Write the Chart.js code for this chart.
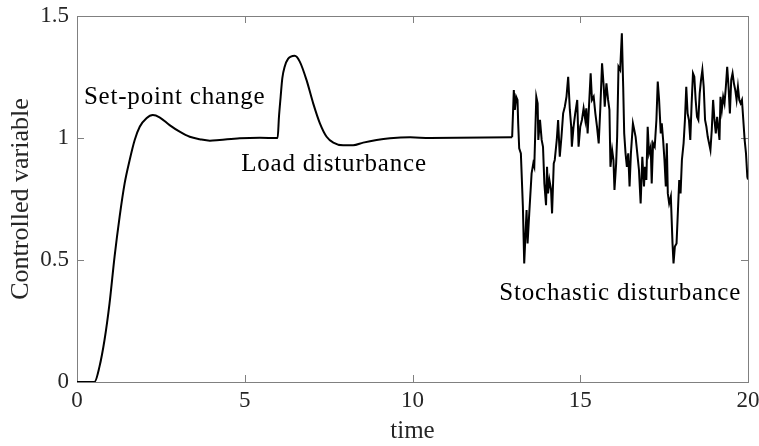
<!DOCTYPE html>
<html>
<head>
<meta charset="utf-8">
<script src="https://cdn.jsdelivr.net/npm/chart.js@4.4.0/dist/chart.umd.min.js"></script>
<style>
  html, body { margin: 0; padding: 0; background: #fff; }
  #wrap { width: 759px; height: 446px; }
</style>
</head>
<body>
<div id="wrap"><canvas id="responseChart"></canvas></div>
<script>
// time axis and controlled variable
var times = [
  0, 0.52, 0.67, 0.82, 0.97, 1.12, 1.27, 1.42, 1.57, 1.72, 1.87, 2.07, 2.26, 2.46, 2.76, 3.06, 3.36, 3.66, 3.96, 4.25, 4.85, 5.45, 5.98,
  6.02, 6.07, 6.12, 6.19, 6.29, 6.49, 6.64, 6.84, 7.04, 7.24, 7.44, 7.64, 7.93, 8.23, 8.53, 8.93, 9.33, 9.93, 10.52, 12.97,
  13.02, 13.05, 13.09, 13.13, 13.15, 13.18, 13.23, 13.29, 13.33, 13.40, 13.43, 13.48, 13.55, 13.60, 13.63, 13.69, 13.73, 13.75, 13.80, 13.85,
  13.89, 13.93, 13.98, 14.01, 14.04, 14.08, 14.13, 14.16, 14.21, 14.24, 14.30, 14.34, 14.39, 14.44, 14.49, 14.54, 14.59, 14.64, 14.69,
  14.73, 14.75, 14.80, 14.85, 14.91, 14.95, 15.00, 15.05, 15.10, 15.15, 15.18, 15.22, 15.27, 15.31, 15.35, 15.40, 15.45, 15.50, 15.55,
  15.60, 15.65, 15.70, 15.73, 15.78, 15.83, 15.87, 15.90, 15.95, 15.99, 16.02, 16.07, 16.10, 16.14, 16.19, 16.24, 16.28, 16.31, 16.35,
  16.39, 16.43, 16.47, 16.51, 16.57, 16.61, 16.65, 16.70, 16.75, 16.80, 16.85, 16.90, 16.93, 16.97, 17.01, 17.05, 17.10, 17.13, 17.17,
  17.22, 17.27, 17.31, 17.35, 17.40, 17.43, 17.47, 17.51, 17.55, 17.58, 17.61, 17.65, 17.70, 17.75, 17.78, 17.82, 17.87, 17.90, 17.95,
  17.99, 18.03, 18.08, 18.12, 18.16, 18.20, 18.24, 18.28, 18.32, 18.36, 18.40, 18.44, 18.48, 18.52, 18.56, 18.60, 18.64, 18.68, 18.72,
  18.76, 18.80, 18.84, 18.88, 18.92, 18.96, 19.00, 19.04, 19.08, 19.12, 19.15, 19.18, 19.22, 19.26, 19.30, 19.34, 19.38, 19.42, 19.46,
  19.50, 19.54, 19.58, 19.62, 19.66, 19.70, 19.74, 19.78, 19.82, 19.86, 19.90, 19.94, 19.98, 20.00
];
var controlled = [
  0, 0, 0.063, 0.172, 0.322, 0.514, 0.677, 0.814, 0.910, 0.992, 1.046, 1.081, 1.094, 1.085, 1.053, 1.026, 1.005, 0.995, 0.989, 0.992, 0.999, 1.001, 1.0,
  1.087, 1.169, 1.245, 1.292, 1.324, 1.337, 1.313, 1.238, 1.142, 1.060, 1.005, 0.981, 0.970, 0.970, 0.981, 0.992, 0.999, 1.003, 1.0, 1.003,
  1.197, 1.115, 1.169, 1.156, 1.060, 0.958, 0.937, 0.719, 0.486, 0.705, 0.568, 0.691, 0.855, 0.896, 0.882, 1.169, 1.142, 0.992, 1.074, 0.992,
  0.964, 0.814, 0.725, 0.882, 0.773, 0.828, 0.787, 0.691, 0.896, 0.910, 0.992, 1.074, 0.923, 1.005, 1.101, 1.128, 1.169, 1.251, 1.115,
  1.046, 0.964, 1.046, 1.101, 1.156, 0.964, 1.046, 1.074, 1.122, 1.074, 1.122, 1.019, 1.156, 1.265, 1.156, 1.169, 1.101, 1.046, 0.978,
  1.128, 1.306, 1.210, 1.128, 1.224, 1.156, 1.115, 0.882, 0.951, 0.910, 0.787, 0.896, 1.005, 1.292, 1.279, 1.429, 1.210, 1.019, 0.937,
  0.882, 0.937, 0.801, 0.937, 1.060, 1.033, 1.005, 0.937, 0.869, 0.732, 0.923, 0.801, 0.882, 0.828, 1.046, 0.937, 0.964, 0.814, 0.978,
  0.964, 1.074, 1.231, 1.156, 1.019, 1.060, 0.992, 0.910, 0.801, 0.978, 0.773, 0.732, 0.760, 0.568, 0.486, 0.555, 0.568, 0.664, 0.828,
  0.773, 0.910, 0.978, 1.074, 1.210, 1.101, 1.074, 0.992, 1.142, 1.265, 1.251, 1.156, 1.087, 1.074, 1.183, 1.238, 1.279, 1.210, 1.074,
  1.046, 1.005, 0.978, 0.951, 1.033, 1.156, 1.074, 1.019, 1.087, 1.033, 0.992, 1.169, 1.115, 1.169, 1.142, 1.210, 1.292, 1.210, 1.101,
  1.238, 1.265, 1.224, 1.197, 1.156, 1.210, 1.156, 1.142, 1.156, 1.074, 0.992, 0.937, 0.841, 0.83
];
var xTicks = [0, 5, 10, 15, 20];
var yTicks = [0, 0.5, 1, 1.5];
var noteTexts = ['Set-point change', 'Load disturbance', 'Stochastic disturbance'];

// where each note sits, data units (text centre, baseline)
var notePlaces = [[2.91, 1.139], [7.66, 0.865], [16.19, 0.336]];
var noiseStart = 12.97;

var serif = "'Liberation Serif', 'DejaVu Serif', serif";
var axisGray = '#808080';

var points = times.map(function (t, i) { return { x: t, y: controlled[i] }; });
var smoothPart = points.filter(function (p) { return p.x <= noiseStart; });
var noisyPart = points.filter(function (p) { return p.x >= noiseStart; });

// box with inward ticks on all four sides + the text notes
var boxTicks = {
  id: 'boxTicks',
  beforeDatasetsDraw: function (chart) {
    var c = chart.ctx, a = chart.chartArea;
    var sx = chart.scales.x, sy = chart.scales.y;
    var len = 7;
    c.save();
    c.strokeStyle = axisGray;
    c.lineWidth = 1;
    c.strokeRect(Math.round(a.left) + 0.5, Math.round(a.top) + 0.5,
      Math.round(a.right - a.left), Math.round(a.bottom - a.top));
    c.beginPath();
    xTicks.forEach(function (v) {
      var px = Math.round(sx.getPixelForValue(v)) + 0.5;
      c.moveTo(px, a.bottom); c.lineTo(px, a.bottom - len);
      c.moveTo(px, a.top); c.lineTo(px, a.top + len);
    });
    yTicks.forEach(function (v) {
      var py = Math.round(sy.getPixelForValue(v)) + 0.5;
      c.moveTo(a.left, py); c.lineTo(a.left + len, py);
      c.moveTo(a.right, py); c.lineTo(a.right - len, py);
    });
    c.stroke();
    c.restore();
  },
  afterDatasetsDraw: function (chart) {
    var c = chart.ctx;
    var sx = chart.scales.x, sy = chart.scales.y;
    c.save();
    c.fillStyle = '#000';
    c.font = '25px ' + serif;
    c.letterSpacing = '0.8px';
    c.textAlign = 'center';
    c.textBaseline = 'alphabetic';
    noteTexts.forEach(function (txt, i) {
      c.fillText(txt, sx.getPixelForValue(notePlaces[i][0]), sy.getPixelForValue(notePlaces[i][1]));
    });
    c.restore();
  }
};

var lineStyle = { borderColor: '#000', borderWidth: 2, pointRadius: 0, fill: false };

new Chart(document.getElementById('responseChart'), {
  type: 'line',
  data: {
    datasets: [
      Object.assign({ data: smoothPart, cubicInterpolationMode: 'monotone' }, lineStyle),
      Object.assign({ data: noisyPart, tension: 0 }, lineStyle)
    ]
  },
  options: {
    responsive: true,
    maintainAspectRatio: false,
    animation: false,
    events: [],
    layout: { padding: { left: 0, right: 11, top: 16, bottom: 0 } },
    plugins: { legend: { display: false }, tooltip: { enabled: false } },
    scales: {
      x: {
        type: 'linear',
        min: 0, max: 20,
        afterBuildTicks: function (s) { s.ticks = xTicks.map(function (v) { return { value: v }; }); },
        afterFit: function (s) { s.height = 64; s.paddingLeft = 0; s.paddingRight = 0; },
        grid: { display: false, drawTicks: false },
        border: { display: false },
        ticks: { padding: 5, color: '#262626', font: { family: serif, size: 23 }, maxRotation: 0,
          callback: function (v) { return String(v); } },
        title: { display: true, text: 'time', color: '#262626', font: { family: serif, size: 25 }, padding: { top: 0, bottom: 0 } }
      },
      y: {
        min: 0, max: 1.5,
        afterBuildTicks: function (s) { s.ticks = yTicks.map(function (v) { return { value: v }; }); },
        afterFit: function (s) { s.width = 77; s.paddingTop = 0; s.paddingBottom = 0; },
        grid: { display: false, drawTicks: false },
        border: { display: false },
        ticks: { padding: 8, color: '#262626', font: { family: serif, size: 23 },
          callback: function (v) { return String(v); } },
        title: { display: true, text: 'Controlled variable', color: '#262626', font: { family: serif, size: 26 }, padding: { top: 6, bottom: 0 } }
      }
    }
  },
  plugins: [boxTicks]
});
</script>
</body>
</html>
